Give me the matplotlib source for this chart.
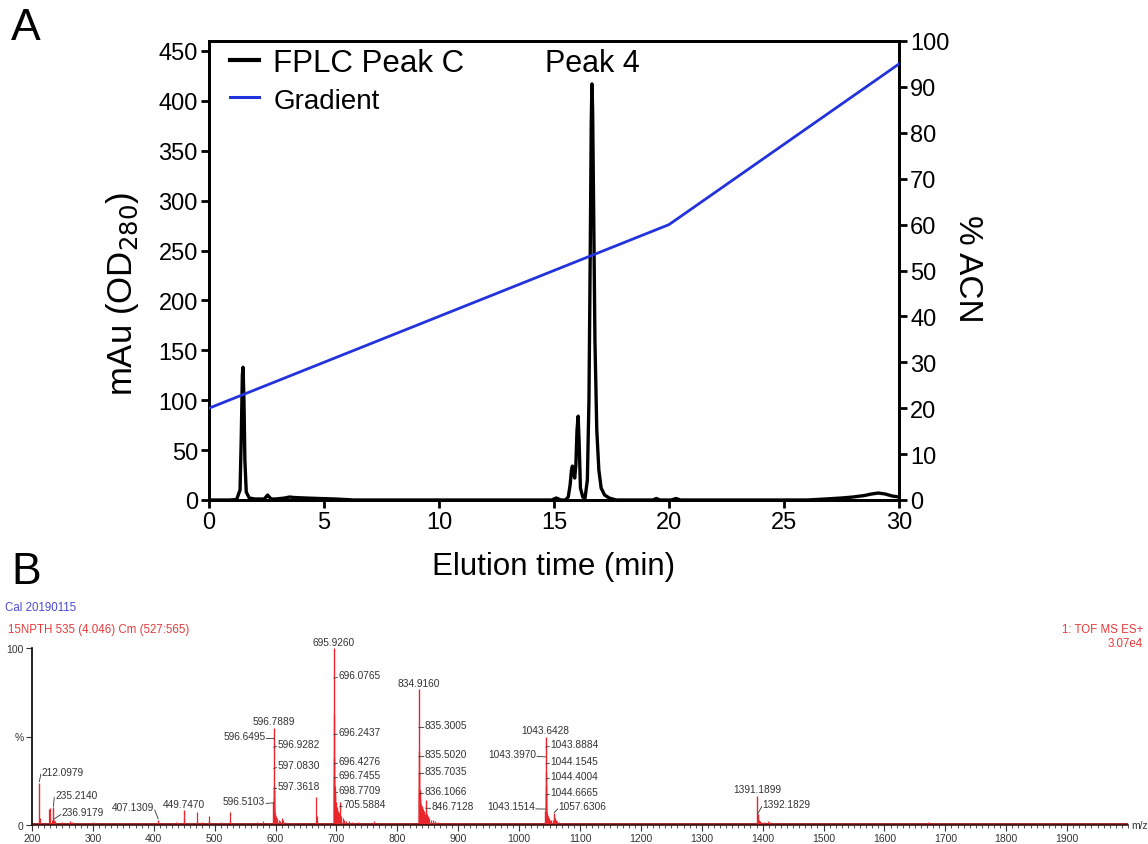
import matplotlib
matplotlib.use("Agg")
import matplotlib.pyplot as plt
from matplotlib.lines import Line2D
from matplotlib.ticker import MultipleLocator

plt.rcParams['font.family'] = ['Liberation Sans', 'DejaVu Sans']

# ---------------- Panel A data: FPLC chromatogram ----------------
elution_time = [0.0, 0.9, 1.2, 1.35, 1.40, 1.45, 1.48, 1.52, 1.56, 1.62, 1.75, 2.0,
                2.4, 2.55, 2.62, 2.7, 2.9, 3.3, 3.5, 3.7, 4.2, 4.8, 5.5, 6.3, 10.0,
                14.9, 15.1, 15.2, 15.3, 15.5, 15.62, 15.7, 15.76, 15.8, 15.84, 15.9,
                15.95, 16.0, 16.05, 16.09, 16.15, 16.25, 16.35, 16.45, 16.52, 16.58,
                16.62, 16.65, 16.68, 16.72, 16.78, 16.86, 16.95, 17.05, 17.2, 17.4,
                17.7, 19.3, 19.45, 19.6, 20.1, 20.3, 20.5, 26.0, 26.8, 27.5, 28.0,
                28.5, 28.8, 29.1, 29.4, 29.7, 30.0]
absorbance = [0, 0, 0.5, 10, 60, 125, 133, 100, 40, 8, 2, 1,
              1, 5, 3, 1, 1, 2, 3, 2.5, 2, 1.5, 1, 0, 0,
              0, 2, 1, 0, 0, 3, 15, 30, 34, 28, 22,
              35, 70, 84, 60, 12, 3, 2, 20, 100, 260,
              380, 417, 390, 300, 160, 70, 30, 12, 5, 2,
              0, 0, 1.5, 0, 0, 1.5, 0, 0, 1, 2, 3,
              4.5, 6, 7, 6, 4, 3]
gradient_time = [0, 20, 30]
gradient_acn = [20, 60, 95]
peak4_time = 16.65
peak4_height = 417

left_ticks = list(range(0, 451, 50))
right_ticks = list(range(0, 101, 10))
time_ticks = list(range(0, 31, 5))

# ---------------- Panel B data: TOF MS spectrum ----------------
labeled_mz = [212.0979, 235.2140, 236.9179, 407.1309, 449.7470,
              596.5103, 596.6495, 596.7889, 596.9282, 597.0830, 597.3618,
              695.9260, 696.0765, 696.2437, 696.4276, 696.7455, 698.7709, 705.5884,
              834.9160, 835.3005, 835.5020, 835.7035, 836.1066, 846.7128,
              1043.1514, 1043.3970, 1043.6428, 1043.8884, 1044.1545, 1044.4004,
              1044.6665, 1057.6306, 1391.1899, 1392.1829]
labeled_int = [24, 10, 3, 3, 8.7,
               13, 20, 55, 22, 15, 10,
               100, 62, 38, 28, 22, 13, 13,
               77, 42, 30, 21, 17, 14,
               8, 22, 50, 30, 18, 12,
               8, 7, 16.5, 6]
other_mz = [213.1, 228.4, 230.0, 233.0, 238.5, 250, 262, 265, 280, 300, 320, 350,
            380, 410, 436, 450.3, 470.2, 471.0, 480, 490.3, 491.5, 510, 525.3, 526.0,
            540, 570, 580, 597.6, 597.9, 598.3, 599, 600, 602, 605, 608, 610, 612,
            615, 630, 650, 666.9, 667.4, 668, 697.0, 697.3, 697.7, 698.2, 699.5,
            700.5, 701.5, 702.5, 703.5, 704.5, 706.5, 708, 710, 713, 716, 720, 725,
            735, 750, 762, 780, 800, 836.5, 837, 837.5, 838, 839, 840, 841, 842,
            843, 844, 845, 847.5, 848.5, 850, 852, 855, 858, 862, 866, 870, 880,
            900, 1045.0, 1045.4, 1046, 1047, 1048, 1049, 1050, 1052, 1055, 1058.5,
            1060, 1063, 1066, 1070, 1392.8, 1393.5, 1395, 1398, 1402, 1408, 1412,
            1420, 1672]
other_int = [4, 9, 9.5, 3, 2, 1.5, 2, 1.5, 1.2, 1.5, 1, 1,
             1, 1, 1.5, 3, 7.5, 2.5, 1.5, 5.3, 2, 1.5, 7.5, 2.5,
             1, 1.5, 2, 9, 8, 7, 6, 5, 4, 3, 2.5, 4, 3,
             1.5, 1, 1, 16, 5, 2, 20, 22, 18, 15, 11,
             10, 9, 8, 7, 7, 6, 5, 4, 3, 2, 2, 1.5,
             1.5, 1, 2, 1, 1, 20, 19, 16, 14, 12, 11, 10, 9,
             8, 7, 6, 8, 6, 5, 4, 3, 3, 2, 1.5, 1.2, 1,
             1, 7, 6, 6, 5, 4, 4, 3, 3, 3, 4,
             3, 2, 1.5, 1, 4, 3, 2, 1.5, 1.5, 2, 1.5,
             1, 1.5]
mz_ticks = list(range(200, 2000, 100))

# label placement: (text x in m/z, text y in %, alignment, leader end y on the stick)
label_layout = [
    (216, 30.2, 'left', 24.5), (238, 17, 'left', 10.5), (249, 7.5, 'left', 3.5),
    (400, 10, 'right', 3.5), (449.747, 11.9, 'center', None),
    (583, 13.7, 'right', 12.5), (583, 50.5, 'right', 49), (596.789, 59, 'center', None),
    (603, 45.8, 'left', 44), (603, 33.9, 'left', 32), (603, 22.2, 'left', 20.5),
    (695.926, 103.3, 'center', None), (703, 84.8, 'left', 83), (703, 52.8, 'left', 51),
    (703, 36.4, 'left', 34.5), (703, 28.3, 'left', 26.5), (703, 20, 'left', 18.5),
    (711, 11.9, 'left', 10.5),
    (834.916, 80.3, 'center', None), (845, 56.6, 'left', 55), (845, 40.2, 'left', 38.5),
    (845, 30.7, 'left', 29), (844, 19.4, 'left', 17.5), (856, 10.9, 'left', 9.5),
    (1026, 10.6, 'right', 9), (1028, 40.2, 'right', 38.5), (1043.6428, 53.4, 'center', None),
    (1051, 45.8, 'left', 44), (1051, 36.4, 'left', 34.5), (1051, 27.9, 'left', 26),
    (1051, 18.8, 'left', 17), (1065, 10.6, 'left', 7),
    (1391.1899, 20.4, 'center', None), (1400, 11.9, 'left', 6.5),
]

W, H = 1148, 845
fig = plt.figure(figsize=(W / 100, H / 100), dpi=100)

# ---------------- Panel A ----------------
ax = fig.add_axes([209 / W, 1 - 501 / H, 690 / W, 459 / H])
ax.plot(elution_time, absorbance, color='black', lw=2.4, solid_joinstyle='round', zorder=3)
ax.set_xlim(0, 30)
ax.set_ylim(0, 460)
ax.set_xticks(time_ticks)
ax.set_yticks(left_ticks)
for s in ax.spines.values():
    s.set_linewidth(2.0)
ax.tick_params(axis='both', which='major', direction='out', length=6, width=2.0,
               labelsize=17, pad=2)
ax.set_xlabel('Elution time (min)', fontsize=22.5)
ax.xaxis.set_label_coords(0.5, -0.111)
ax.set_ylabel('mAu (OD$_{280}$)', fontsize=25)
ax.yaxis.set_label_coords(-0.099, 0.45)
ax.annotate('Peak 4', xy=(peak4_time, peak4_height), xytext=(0, 9),
            textcoords='offset points', ha='center', va='baseline', fontsize=22)

ax2 = ax.twinx()
ax2.plot(gradient_time, gradient_acn, color='#2233dd', lw=2.0, zorder=4)
ax2.set_ylim(0, 100)
ax2.set_yticks(right_ticks)
for s in ax2.spines.values():
    s.set_linewidth(2.0)
ax2.tick_params(axis='y', direction='out', length=6, width=2.0, labelsize=17, pad=2)
ax2.set_ylabel('% ACN', fontsize=24, rotation=270, va='center')
ax2.yaxis.set_label_coords(1.10, 0.505)

handles = [Line2D([], [], color='black', lw=3.0), Line2D([], [], color='#2233dd', lw=2.2)]
leg = ax.legend(handles, ['FPLC Peak C', 'Gradient'], loc='upper left',
                bbox_to_anchor=(0.03, 0.985), frameon=False, fontsize=22.5,
                handlelength=0.95, handletextpad=0.45, labelspacing=0.25,
                borderaxespad=0, borderpad=0)
leg.get_texts()[1].set_fontsize(20)

fig.text(26 / W, 1 - 29 / H, 'A', fontsize=32, ha='center', va='center')
fig.text(26 / W, 1 - 573 / H, 'B', fontsize=32, ha='center', va='center')

# ---------------- Panel B ----------------
red = '#e8262b'
bx = fig.add_axes([32 / W, 1 - 826 / H, 1096 / W, 177 / H])
bx.vlines(other_mz, 0, other_int, color=red, lw=0.9)
bx.vlines(labeled_mz, 0, labeled_int, color=red, lw=1.0)
bx.axhline(0.3, color='#9a1a1a', lw=1.3, zorder=1)
bx.set_xlim(200, 2000)
bx.set_ylim(0, 100)
for side in ('top', 'right'):
    bx.spines[side].set_visible(False)
bx.spines['left'].set_linewidth(1.2)
bx.spines['bottom'].set_linewidth(1.2)
bx.spines['bottom'].set_color('#3a1010')
bx.set_xticks(mz_ticks)
bx.xaxis.set_minor_locator(MultipleLocator(10))
bx.set_yticks([0, 50, 100])
bx.set_yticklabels(['0', '%', '100'])
bx.tick_params(axis='both', which='major', length=4, width=0.8, labelsize=7.5,
               pad=2, colors='#333333')
bx.tick_params(axis='x', which='minor', length=2, width=0.6, colors='#333333')
bx.text(1.003, 0.0, 'm/z', transform=bx.transAxes, fontsize=7.5, color='#333333',
        ha='left', va='center')

lab_color = '#333333'
for mz, (tx, ty, ha, ly) in zip(labeled_mz, label_layout):
    bx.text(tx, ty, f'{mz:.4f}', fontsize=7.3, color=lab_color, ha=ha, va='center',
            clip_on=False)
    if ly is not None:
        sx = tx - 1.5 if ha == 'left' else tx + 1.5
        bx.plot([sx, mz], [ty - 1.5, ly], color=lab_color, lw=0.6, clip_on=False)

fig.text(5 / W, 1 - 608 / H, 'Cal 20190115', fontsize=8.3, color='#4a4ad8',
         ha='left', va='center')
fig.text(8 / W, 1 - 630 / H, '15NPTH 535 (4.046) Cm (527:565)', fontsize=8.3,
         color='#e83a3a', ha='left', va='center')
fig.text(1143 / W, 1 - 630 / H, '1: TOF MS ES+', fontsize=8.3, color='#e83a3a',
         ha='right', va='center')
fig.text(1143 / W, 1 - 644 / H, '3.07e4', fontsize=8.3, color='#e83a3a',
         ha='right', va='center')

fig.savefig('out.png', dpi=100)
